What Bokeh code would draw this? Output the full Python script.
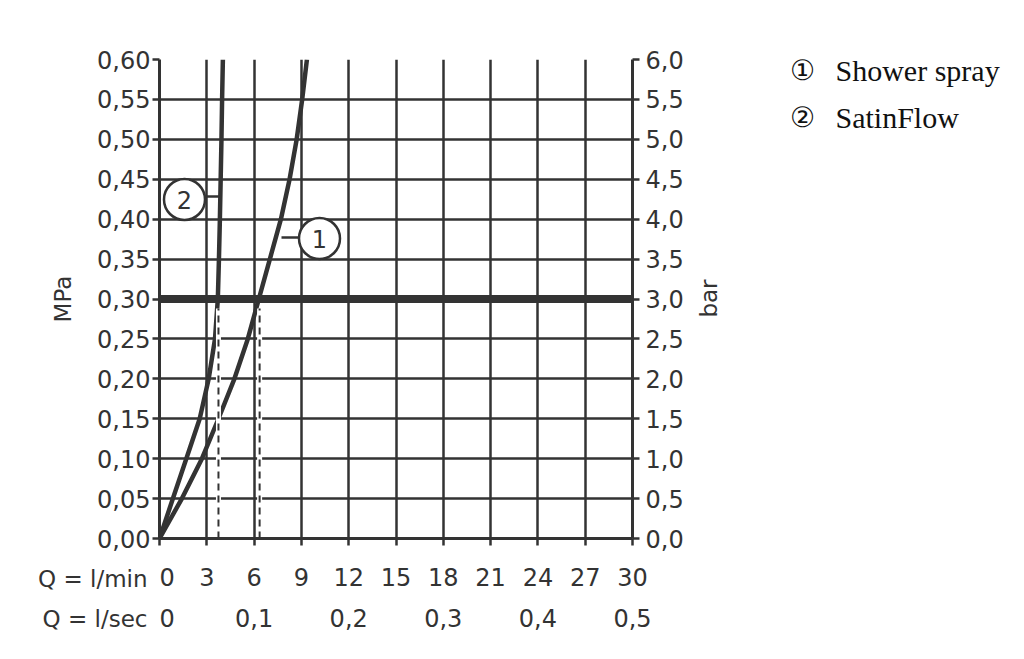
import math
from bokeh.plotting import figure
from bokeh.layouts import row, column
from bokeh.models import (Range1d, LinearAxis, FixedTicker, Grid, CustomJSTickFormatter)
from bokeh.core.properties import value
from bokeh.embed import file_html
from bokeh.resources import INLINE

# ---------------- data ----------------
pressure_mpa = [0.00, 0.05, 0.10, 0.15, 0.20, 0.25, 0.30, 0.35, 0.40, 0.45, 0.50, 0.55, 0.60]
shower_spray_lpm = [0.0, 1.42, 2.69, 3.74, 4.75, 5.60, 6.30, 7.00, 7.70, 8.25, 8.70, 9.05, 9.35]
satinflow_lpm = [0.0, 0.85, 1.70, 2.55, 3.12, 3.52, 3.70, 3.77, 3.83, 3.88, 3.93, 3.97, 4.02]
reference_pressure = 0.30
flow_at_reference = [6.35, 3.74]          # Shower spray, SatinFlow (l/min at 0.3 MPa)
lpm_ticks = [0, 3, 6, 9, 12, 15, 18, 21, 24, 27, 30]
lsec_ticks = [0, 0.1, 0.2, 0.3, 0.4, 0.5]
mpa_ticks = [0, 0.05, 0.10, 0.15, 0.20, 0.25, 0.30, 0.35, 0.40, 0.45, 0.50, 0.55, 0.60]
bar_ticks = [0, 0.5, 1.0, 1.5, 2.0, 2.5, 3.0, 3.5, 4.0, 4.5, 5.0, 5.5, 6.0]
series_names = ["Shower spray", "SatinFlow"]
series_marks = ["\u2460", "\u2461"]
callout_labels = ["1", "2"]
row_titles = ["Q = l/min", "Q = l/sec"]
right_axis_title = "bar"

# ---------------- layout (page pixels) ----------------
MAIN_W, MAIN_H = 692, 555
BL, BT = 159, 59
FRAME_W, FRAME_H = 473, 479
BR = MAIN_W - BL - FRAME_W
BB = MAIN_H - BT - FRAME_H
TOTAL_W, TOTAL_H = 1008, 640
INK = "#333333"
FONT = "DejaVu Sans"
SERIF = "Liberation Serif"

def qx(px):   # page px -> l/min
    return (px - BL) / FRAME_W * 30.0

def py(pyy):  # page px -> MPa
    return ((BT + FRAME_H) - pyy) / FRAME_H * 0.6

def plain(fig):
    fig.outline_line_color = None
    fig.background_fill_color = "white"
    fig.border_fill_color = "white"
    return fig

x_range = Range1d(0, 30)
p = plain(figure(width=MAIN_W, height=MAIN_H, x_range=x_range, y_range=Range1d(0, 0.6),
                 output_backend="svg", toolbar_location=None,
                 x_axis_type=None, y_axis_type=None,
                 min_border_left=BL, min_border_top=BT, min_border_right=BR,
                 min_border_bottom=BB))
p.extra_y_ranges = {"bar": Range1d(0, 6)}

x_ticker = FixedTicker(ticks=lpm_ticks)
y_ticker = FixedTicker(ticks=mpa_ticks)

p.add_layout(Grid(dimension=0, ticker=x_ticker, grid_line_color=INK, grid_line_width=2.5))
p.add_layout(Grid(dimension=1, ticker=y_ticker, grid_line_color=INK, grid_line_width=2.5))

def style_axis(ax, standoff):
    ax.axis_line_color = INK
    ax.axis_line_width = 3
    ax.major_tick_line_color = INK
    ax.major_tick_line_width = 2.5
    ax.major_tick_out = 7
    ax.major_tick_in = 0
    ax.minor_tick_line_color = None
    ax.major_label_text_font = FONT
    ax.major_label_text_font_size = "24px"
    ax.major_label_text_color = INK
    ax.major_label_standoff = standoff
    ax.axis_label_text_font = FONT
    ax.axis_label_text_font_size = "23px"
    ax.axis_label_text_font_style = "normal"
    ax.axis_label_text_color = INK

left = LinearAxis(ticker=y_ticker, axis_label="MPa",
                  formatter=CustomJSTickFormatter(code="return tick.toFixed(2).replace('.', ',');"))
style_axis(left, 2)
left.axis_label_standoff = 18
p.add_layout(left, "left")

right = LinearAxis(y_range_name="bar", ticker=FixedTicker(ticks=bar_ticks),
                   formatter=CustomJSTickFormatter(code="return tick.toFixed(1).replace('.', ',');"))
style_axis(right, 6)
p.add_layout(right, "right")

bottom_line = LinearAxis(ticker=x_ticker, formatter=CustomJSTickFormatter(code="return '';"))
style_axis(bottom_line, 0)
p.add_layout(bottom_line, "below")

# curves
p.line(shower_spray_lpm, pressure_mpa, line_color=INK, line_width=4.5, line_join="round")
p.line(satinflow_lpm, pressure_mpa, line_color=INK, line_width=4.5, line_join="round")

# reference pressure line
p.line([lpm_ticks[0], lpm_ticks[-1]], [reference_pressure, reference_pressure],
       line_color=INK, line_width=8)

# dashed drop lines
for q in flow_at_reference:
    p.line([q, q], [0, reference_pressure - 0.012], line_color="white", line_width=5)
    p.line([q, q], [0, reference_pressure - 0.012], line_color=INK, line_width=2,
           line_dash="7 5")

# callouts: circle centre px, connector y px, connector x px from..to
callout_geo = [((319, 238), 237, (281, 300)), ((184, 199), 196, (203, 219))]
for lab, ((cx, cy), ly, (x0, x1)) in zip(callout_labels, callout_geo):
    p.line([qx(x0), qx(x1)], [py(ly), py(ly)], line_color=INK, line_width=2.5)
    p.scatter([qx(cx)], [py(cy)], size=41, marker="circle", fill_color="white",
              line_color=INK, line_width=2.5)
    p.text([qx(cx)], [py(cy)], text=[lab], text_font=value(FONT), text_font_size="24px",
           text_color=INK, text_align="center", text_baseline="middle")

# ---------------- flow scales below the chart ----------------
ROW_H = TOTAL_H - MAIN_H
bottom_fig = plain(figure(frame_width=FRAME_W, frame_height=1, x_range=x_range,
                          y_range=Range1d(0, 1), output_backend="svg", toolbar_location=None,
                          x_axis_type=None, y_axis_type=None,
                          min_border_left=0, min_border_right=BR,
                          min_border_top=0, min_border_bottom=ROW_H - 1))
bottom_fig.extra_x_ranges = {"lsec": Range1d(0, 0.5)}

ax_lpm = LinearAxis(ticker=x_ticker, formatter=CustomJSTickFormatter(code="return tick.toFixed(0);"))
style_axis(ax_lpm, 11)
ax_lpm.axis_line_color = None
ax_lpm.major_tick_line_color = None
ax_lpm.major_tick_out = 0
bottom_fig.add_layout(ax_lpm, "below")

ax_lsec = LinearAxis(x_range_name="lsec", ticker=FixedTicker(ticks=lsec_ticks),
                     formatter=CustomJSTickFormatter(
                         code="return tick == 0 ? '0' : tick.toFixed(1).replace('.', ',');"))
style_axis(ax_lsec, 20)
ax_lsec.axis_line_color = None
ax_lsec.major_tick_line_color = None
ax_lsec.major_tick_out = 0
bottom_fig.add_layout(ax_lsec, "below")

# row titles at the left of the two flow scales (y = minus page pixel)
title_fig = plain(figure(frame_width=BL, frame_height=ROW_H, x_range=Range1d(0, BL),
                         y_range=Range1d(-TOTAL_H, -MAIN_H), output_backend="svg",
                         toolbar_location=None, x_axis_type=None, y_axis_type=None,
                         min_border=0))
title_fig.text([147, 147], [-578, -618], text=row_titles, text_font=value(FONT),
               text_font_size="23px", text_color=INK, text_align="right",
               text_baseline="middle")

# ---------------- right side: axis title and legend ----------------
SIDE_W = TOTAL_W - MAIN_W
side = plain(figure(frame_width=SIDE_W, frame_height=TOTAL_H,
                    x_range=Range1d(MAIN_W, TOTAL_W), y_range=Range1d(-TOTAL_H, 0),
                    output_backend="svg", toolbar_location=None,
                    x_axis_type=None, y_axis_type=None, min_border=0))
side.text([708], [-298], text=[right_axis_title], angle=math.pi / 2,
          text_font=value(FONT), text_font_size="23px", text_color=INK,
          text_align="center", text_baseline="middle")
leg_y = [-70, -117]
side.text([802] * 2, leg_y, text=series_marks, text_font=value("DejaVu Sans"),
          text_font_size="28px", text_color="#111111", text_align="center",
          text_baseline="middle")
side.text([835] * 2, leg_y, text=series_names, text_font=value(SERIF),
          text_font_size="30px", text_color="#111111", text_align="left",
          text_baseline="middle")

layout = row(column(p, row(title_fig, bottom_fig)), side)
open("out.html", "w").write(file_html(layout, INLINE))
